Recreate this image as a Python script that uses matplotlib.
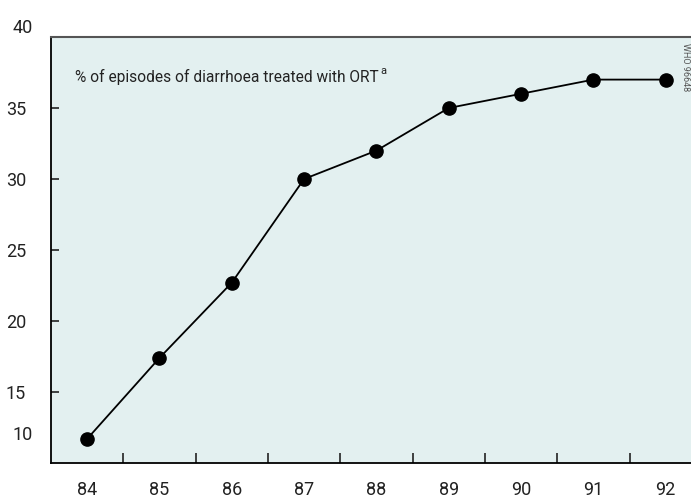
import numpy as np
import matplotlib.pyplot as plt

plt.rcParams['font.family'] = ['Roboto', 'DejaVu Sans']

years = [84, 85, 86, 87, 88, 89, 90, 91, 92]
ort_pct = [11.7, 17.4, 22.7, 30.0, 32.0, 35.0, 36.0, 37.0, 37.0]
year_labels = ["84", "85", "86", "87", "88", "89", "90", "91", "92"]
y_ticks = [15, 20, 25, 30, 35]

fig = plt.figure(figsize=(6.91, 5), dpi=100)
ax = fig.add_axes([51 / 691, 37 / 500, 640 / 691, 426 / 500])
ax.set_facecolor("#e3f0f0")

ax.plot(years, ort_pct, color="black", lw=1.3, marker="o", ms=9.5,
        mfc="black", mec="black", zorder=3, clip_on=False)

ax.set_xlim(83.5, 92.35)
ax.set_ylim(10, 40)

# labels on the years, tick marks between them
ax.set_xticks(years)
ax.set_xticklabels(year_labels)
ax.set_xticks(np.array(years[:-1]) + 0.5, minor=True)
ax.tick_params(axis="x", which="major", length=0, pad=13, labelsize=13)
ax.tick_params(axis="x", which="minor", direction="in", length=7, width=1.2)

ax.set_yticks(y_ticks)
ax.set_yticklabels([str(t) for t in y_ticks])
ax.tick_params(axis="y", direction="in", length=6, width=1.2, pad=18,
               labelsize=13)

# end labels sit off the axis ends in the original
ax.text(-18 / 640, 28 / 426, "10", transform=ax.transAxes, ha="right",
        va="center", fontsize=13, color="#222222")
ax.text(-18 / 640, 1 + 9 / 426, "40", transform=ax.transAxes, ha="right",
        va="center", fontsize=13, color="#222222")

ax.spines["right"].set_visible(False)
ax.spines["top"].set_color("#555555")
ax.spines["top"].set_linewidth(1.5)
ax.spines["left"].set_linewidth(1.3)
ax.spines["bottom"].set_linewidth(1.3)
ax.tick_params(colors="#222222", which="both")

title = ax.text(24 / 640, 0.906, "% of episodes of diarrhoea treated with ORT",
                transform=ax.transAxes, fontsize=11.2, color="#222222",
                va="center")
ax.annotate("a", xy=(1, 1), xycoords=title, xytext=(1, 2),
            textcoords="offset points", fontsize=8, color="#222222",
            va="top")

ax.text(0.991, 0.985, "WHO 96648", transform=ax.transAxes, rotation=-90,
        fontsize=6.5, color="#555555", ha="center", va="top")

fig.savefig("out.png", dpi=100)
